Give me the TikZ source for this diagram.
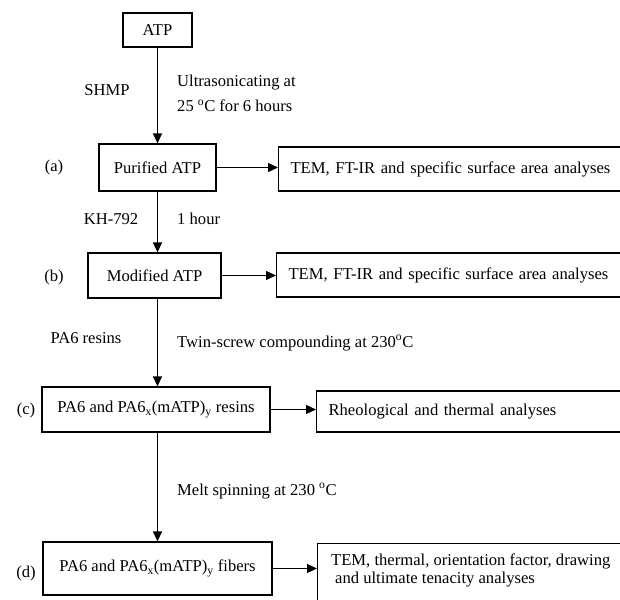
\documentclass[tikz,border=0pt]{standalone}
\usepackage{fontspec}
\setmainfont{Liberation Serif}
\usetikzlibrary{arrows.meta}
\tikzset{
	box/.style={draw, line width=1.2pt, inner sep=0pt},
	rbox/.style={draw, line width=1.2pt, anchor=west, text width=340pt, inner xsep=12pt, inner ysep=0pt, align=left},
	step text/.style={anchor=west, inner xsep=0pt},
	flow/.style={line width=1.2pt, arrows={-Triangle[length=10pt,width=9pt]}}
}

\begin{document}
\begin{tikzpicture}[x=1pt,y=-1pt,font=\fontsize{16.6}{20}\selectfont]
	\useasboundingbox (0,0) rectangle (620,599);

	\node[box, minimum width=69pt, minimum height=34pt] (atp) at (157.5,30) {ATP};
	\node[box, minimum width=117pt, minimum height=47pt] (pur) at (157.5,167.5) {Purified ATP};
	\node[box, minimum width=133pt, minimum height=45pt] (mod) at (154.5,275.5) {Modified ATP};
	\node[box, minimum width=228pt, minimum height=45pt] (res) at (156,409.5) {PA6 and PA6\textsubscript{x}(mATP)\textsubscript{y} resins};
	\node[box, minimum width=229pt, minimum height=53pt] (fib) at (157.5,568.5) {PA6 and PA6\textsubscript{x}(mATP)\textsubscript{y} fibers};

	\node (laba) at (54,168) {(a)};
	\node (labb) at (54,278) {(b)};
	\node (labc) at (26,411) {(c)};
	\node (labd) at (26,573) {(d)};

	\node[rbox, minimum height=44pt] (tem1) at (278,169) {TEM, FT-IR and specific surface area analyses};
	\node[rbox, minimum height=44pt] (tem2) at (276,275) {TEM, FT-IR and specific surface area analyses};
	\node[rbox, minimum height=41pt] (rheo) at (316,411.5) {Rheological and thermal analyses};
	\node[rbox, anchor=north west, minimum height=70pt] (ana) at (317,543) {};
	\node[anchor=north west, align=left, inner sep=0pt] (anatxt) at (331,554) {TEM, thermal, orientation factor, drawing\\[-2pt]\hspace{4pt}and ultimate tenacity analyses};

	\node (shmp) at (107,90) {SHMP};
	\node[step text, align=left] (ultra) at (177,93.5) {Ultrasonicating at\\[5pt]25 \textsuperscript{o}C for 6 hours};
	\node (kh) at (111,219) {KH-792};
	\node[step text] (onehr) at (177,219) {1 hour};
	\node (pa6) at (86,338) {PA6 resins};
	\node[step text] (twin) at (177,343) {Twin-screw compounding at 230\textsuperscript{o}C};
	\node[step text] (melt) at (177,491) {Melt spinning at 230 \textsuperscript{o}C};

	\draw[flow] (atp) -- (pur);
	\draw[flow] (pur) -- (pur |- mod.north);
	\draw[flow] (pur |- mod.south) -- (pur |- res.north);
	\draw[flow] (pur |- res.south) -- (pur |- fib.north);

	\draw[flow] (pur) -- (pur -| tem1.west);
	\draw[flow] (mod) -- (mod -| tem2.west);
	\draw[flow] (res) -- (res -| rheo.west);
	\draw[flow] (fib) -- (fib -| ana.west);
\end{tikzpicture}
\end{document}
